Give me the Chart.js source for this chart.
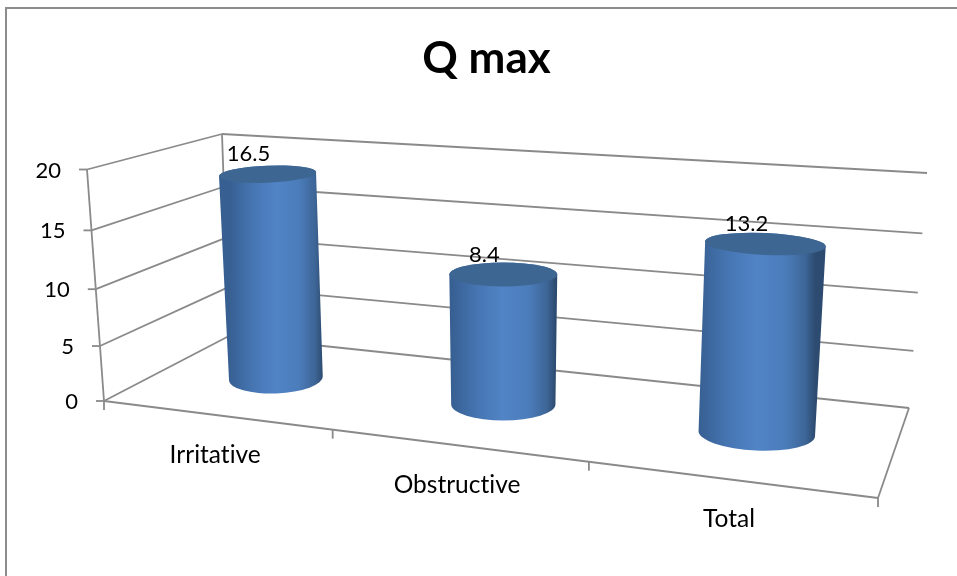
<!DOCTYPE html>
<html>
<head>
<meta charset="utf-8">
<title>Q max</title>
<script src="https://cdn.jsdelivr.net/npm/chart.js@4"></script>
<style>
    html, body { margin: 0; padding: 0; background: #fff; }
    canvas { display: block; }
</style>
</head>
<body>
<canvas id="qmaxChart" width="957" height="576"></canvas>
<script>
// Dữ liệu biểu đồ
const categories = ['Irritative', 'Obstructive', 'Total'];
const qmaxValues = [16.5, 8.4, 13.2];
const valueTicks = [0, 5, 10, 15, 20];

const FONT_FAMILY = 'Lato, "Open Sans", sans-serif';
const LINE_COLOR = '#8a8a8a';

// Corners of the box the chart stands in (front-left, front-right, back-right, back-left)
const FLOOR = [[104, 401], [878, 498], [909, 408], [229, 336]];
const BACK_WALL = [[229, 336], [909, 408], [927, 173], [222, 134]];
const SIDE_WALL = [[104, 401], [229, 336], [222, 134], [87, 169.5]];

// Map the unit square onto a quad (u along the first edge, v along the last edge)
function quadMap(q) {
    const [[x0, y0], [x1, y1], [x2, y2], [x3, y3]] = q;
    const sx = x0 - x1 + x2 - x3, sy = y0 - y1 + y2 - y3;
    const dx1 = x1 - x2, dx2 = x3 - x2, dy1 = y1 - y2, dy2 = y3 - y2;
    const det = dx1 * dy2 - dx2 * dy1;
    const g = (sx * dy2 - dx2 * sy) / det;
    const h = (dx1 * sy - sx * dy1) / det;
    const a = x1 - x0 + g * x1, b = x3 - x0 + h * x3;
    const d = y1 - y0 + g * y1, e = y3 - y0 + h * y3;
    return (u, v) => {
        const w = 1 + g * u + h * v;
        return { x: (a * u + b * v + x0) / w, y: (d * u + e * v + y0) / w };
    };
}

const floorAt = quadMap(FLOOR);
const backWallAt = quadMap(BACK_WALL);
const sideWallAt = quadMap(SIDE_WALL);

function strokeLine(ctx, a, b) {
    ctx.beginPath();
    ctx.moveTo(a.x, a.y);
    ctx.lineTo(b.x, b.y);
    ctx.stroke();
}

// Cylinder bars: positions come from the bar elements the scales already computed
class CylinderController extends Chart.BarController {
    draw() {
        const ctx = this.chart.ctx;
        const area = this.chart.chartArea;
        const bars = this.getMeta().data;
        const values = this.getDataset().data;

        const shapes = bars.map((bar, i) => {
            const u = (bar.x - area.left) / area.width;
            const frac = (bar.base - bar.y) / area.height;
            const base = floorAt(u, 0.5);
            const left = floorAt(u - 0.072, 0.5);
            const right = floorAt(u + 0.072, 0.5);
            const rx = Math.hypot(right.x - left.x, right.y - left.y) / 2;
            const wallHeight = backWallAt(u, 0).y - backWallAt(u, 1).y;
            // the drum rises a bit above its value level, as a rounded 3D column does here
            const height = wallHeight * (0.96 * frac + 0.195);
            const lean = (base.x - 504) * 0.00018;
            const top = { x: base.x + lean * height, y: base.y - height };
            return { base, top, rx, lean, label: String(values[i]) };
        });

        // Value labels go underneath so the caps can overlap them
        ctx.save();
        ctx.fillStyle = '#000';
        ctx.font = '22px ' + FONT_FAMILY;
        ctx.textAlign = 'center';
        ctx.textBaseline = 'middle';
        shapes.forEach(s => ctx.fillText(s.label, s.top.x - 19, s.top.y - 20));
        ctx.restore();

        shapes.forEach(s => drawCylinder(ctx, s));
    }
}
CylinderController.id = 'cylinder';
CylinderController.defaults = Chart.BarController.defaults;
Chart.register(CylinderController);

function drawCylinder(ctx, s) {
    const tilt = Math.atan(s.lean);
    const rxTop = s.rx * 1.035;
    const ryBase = 2 + 0.0345 * s.base.y;
    const ryTop = 2.5 + 0.0345 * s.top.y;

    const grad = ctx.createLinearGradient(s.base.x - s.rx, 0, s.base.x + s.rx, 0);
    grad.addColorStop(0, '#375f92');
    grad.addColorStop(0.25, '#4675b2');
    grad.addColorStop(0.5, '#5184c6');
    grad.addColorStop(0.75, '#4b7cba');
    grad.addColorStop(0.92, '#3d6596');
    grad.addColorStop(1, '#2d4b70');

    ctx.save();
    ctx.beginPath();
    ctx.ellipse(s.base.x, s.base.y, s.rx, ryBase, tilt, 0, Math.PI);
    ctx.ellipse(s.top.x, s.top.y, rxTop, ryTop, tilt, Math.PI, Math.PI * 2);
    ctx.closePath();
    ctx.fillStyle = grad;
    ctx.fill();

    ctx.beginPath();
    ctx.ellipse(s.top.x, s.top.y, rxTop, ryTop, tilt, 0, Math.PI * 2);
    ctx.fillStyle = '#3e6692';
    ctx.fill();
    ctx.restore();
}

// Walls, floor and the axis text
const boxPlugin = {
    id: 'box',
    beforeDatasetsDraw(chart) {
        const ctx = chart.ctx;
        const yScale = chart.scales.y;
        const xScale = chart.scales.x;
        const area = chart.chartArea;

        ctx.save();
        // outer frame of the chart
        ctx.strokeStyle = '#8c8c8c';
        ctx.lineWidth = 2;
        ctx.beginPath();
        ctx.moveTo(6, 576);
        ctx.lineTo(6, 8);
        ctx.lineTo(957, 8);
        ctx.stroke();

        ctx.strokeStyle = LINE_COLOR;
        ctx.lineWidth = 1.8;
        ctx.font = '22px ' + FONT_FAMILY;
        ctx.fillStyle = '#000';

        // value gridlines along the side wall and the back wall
        ctx.textAlign = 'right';
        ctx.textBaseline = 'middle';
        yScale.ticks.forEach(tick => {
            const t = (area.bottom - yScale.getPixelForValue(tick.value)) / area.height;
            const front = sideWallAt(0, t);
            const corner = sideWallAt(1, t);
            strokeLine(ctx, { x: front.x - 8, y: front.y }, front);
            strokeLine(ctx, front, corner);
            strokeLine(ctx, backWallAt(0, t), backWallAt(1, t));
            ctx.fillText(tick.label, front.x - 26, front.y + 1);
        });

        // wall edges
        strokeLine(ctx, sideWallAt(0, 0), sideWallAt(0, 1));
        strokeLine(ctx, sideWallAt(1, 0), sideWallAt(1, 1));

        // floor outline
        strokeLine(ctx, floorAt(0, 0), floorAt(1, 0));
        strokeLine(ctx, floorAt(1, 0), floorAt(1, 1));

        // category separators under the front edge
        const count = categories.length;
        for (let i = 0; i <= count; i++) {
            const p = floorAt(i / count, 0);
            strokeLine(ctx, p, { x: p.x, y: p.y + 9 });
        }

        // category labels follow the slope of the front edge
        ctx.font = '24.5px ' + FONT_FAMILY;
        ctx.letterSpacing = '0.01px'; // keeps "ti" from joining into a ligature
        ctx.textAlign = 'center';
        categories.forEach((name, i) => {
            const u = (xScale.getPixelForValue(i) - area.left) / area.width;
            const p = floorAt(u, 0);
            ctx.fillText(name, p.x, p.y + 40);
        });
        ctx.letterSpacing = '0px';
        ctx.restore();
    }
};

new Chart(document.getElementById('qmaxChart'), {
    type: 'cylinder',
    data: {
        labels: categories,
        datasets: [{ label: 'Q max', data: qmaxValues, backgroundColor: '#4f81bd', clip: false }]
    },
    options: {
        responsive: false,
        animation: false,
        layout: { padding: { left: 104, right: 88, bottom: 175 } },
        scales: {
            x: { type: 'category', display: false, offset: true },
            y: {
                type: 'linear',
                display: false,
                min: valueTicks[0],
                max: valueTicks[valueTicks.length - 1],
                ticks: { stepSize: 5 }
            }
        },
        plugins: {
            legend: { display: false },
            tooltip: { enabled: false },
            title: {
                display: true,
                text: 'Q max',
                color: '#000',
                font: { family: FONT_FAMILY, size: 44, weight: 'bold' },
                padding: { top: 32.6, bottom: 84.1 }
            }
        }
    },
    plugins: [boxPlugin]
});
</script>
</body>
</html>
